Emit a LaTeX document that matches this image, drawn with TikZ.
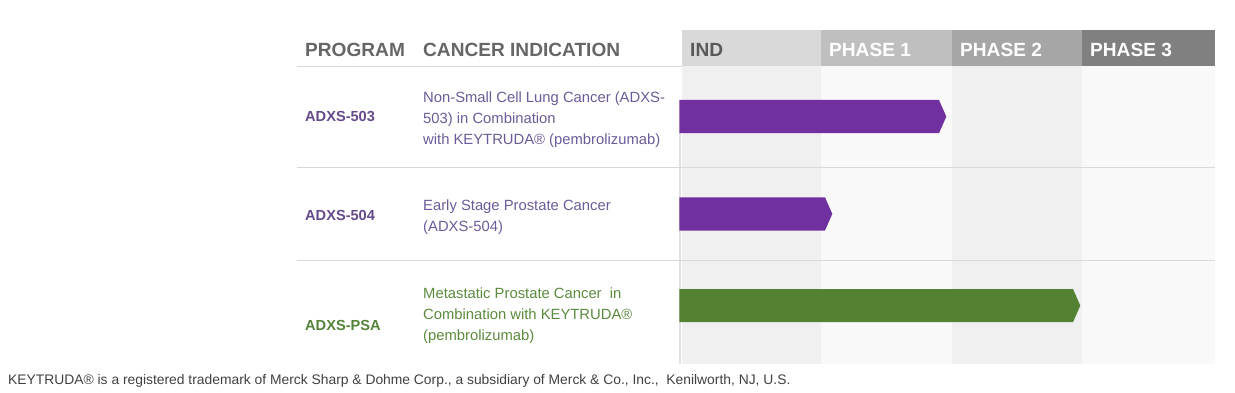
\documentclass[tikz,border=0pt]{standalone}
\usepackage{fontspec}
\setmainfont{Liberation Sans}
\definecolor{hdgray}{HTML}{666666}
\definecolor{rulegray}{HTML}{D9D9D9}
\definecolor{progpurple}{HTML}{654A8C}
\definecolor{indpurple}{HTML}{6C5B98}
\definecolor{proggreen}{HTML}{55833A}
\definecolor{indgreen}{HTML}{5B8A3E}
\definecolor{barpurple}{HTML}{7030A0}
\definecolor{bargreen}{HTML}{548235}

\begin{document}
\begin{tikzpicture}[x=1pt,y=-1pt,
    every node/.style={inner sep=0pt,anchor=base west},
    hdr/.style={font=\fontsize{19.1}{22}\selectfont\bfseries},
    prog/.style={font=\fontsize{14.6}{17}\selectfont\bfseries},
    indic/.style={font=\fontsize{14.8}{21.2}\selectfont,align=left},
    sep/.style={draw=rulegray,line width=0.9pt}
  ]
  \useasboundingbox (0,0) rectangle (1235,393);
  % phase columns: x/width/header/body
  \foreach \x/\w/\hc/\bc in {682/139/D9D9D9/F0F0F0, 821/131/BFBFBF/F9F9F9,
                             952/130/A6A6A6/F0F0F0, 1082/133/808080/F9F9F9}{
    \definecolor{hc}{HTML}{\hc}\definecolor{bc}{HTML}{\bc}
    \fill[hc] (\x,30.5) rectangle ++(\w,35.5);
    \fill[bc] (\x,66) rectangle ++(\w,297.5);
  }
  \draw[black!12,line width=1.2pt] (680,133) -- (680,363.5);
  % rules
  \draw[sep] (297,66) -- (682,66);
  \draw[sep] (297,167) -- (1215,167);
  \draw[sep] (297,260) -- (1215,260);
  % header
  \node[hdr,text=hdgray] (program) at (305,56.5) {PROGRAM};
  \node[hdr,text=hdgray] (indication) at (423,56.5) {CANCER INDICATION};
  \node[hdr,text=black!65] (ind) at (690,56.5) {IND};
  \node[hdr,text=white] (phase1) at (829,56.5) {PHASE 1};
  \node[hdr,text=white] (phase2) at (960,56.5) {PHASE 2};
  \node[hdr,text=white] (phase3) at (1090,56.5) {PHASE 3};
  % rows (multi-line texts sit on their last baseline)
  \node[prog,text=progpurple] (p503) at (305,122) {ADXS-503};
  \node[indic,text=indpurple] (i503) at (423,144.5)
    {Non-Small Cell Lung Cancer (ADXS-\\503) in Combination\\with KEYTRUDA® (pembrolizumab)};
  \node[prog,text=progpurple] (p504) at (305,220.7) {ADXS-504};
  \node[indic,text=indpurple] (i504) at (423,231.7)
    {Early Stage Prostate Cancer\\(ADXS-504)};
  \node[prog,text=proggreen] (ppsa) at (305,330) {ADXS-PSA};
  \node[indic,text=indgreen] (ipsa) at (423,340.5)
    {Metastatic Prostate Cancer\ \ in\\Combination with KEYTRUDA®\\(pembrolizumab)};
  % bars
  \foreach \t/\e/\c in {100/939/barpurple, 197.3/825/barpurple, 289/1073/bargreen}
    \fill[\c] (679.3,\t) -- (\e,\t) -- ++(7.3,16.6) -- ++(-7.3,16.6) -- (679.3,\t+33.2) -- cycle;
  % footnote
  \node[font=\fontsize{13.85}{16}\selectfont,text=black!75] (note) at (8,384.3)
    {KEYTRUDA® is a registered trademark of Merck Sharp \& Dohme Corp., a subsidiary of Merck \& Co., Inc.,\ \ Kenilworth, NJ, U.S.};
\end{tikzpicture}
\end{document}
